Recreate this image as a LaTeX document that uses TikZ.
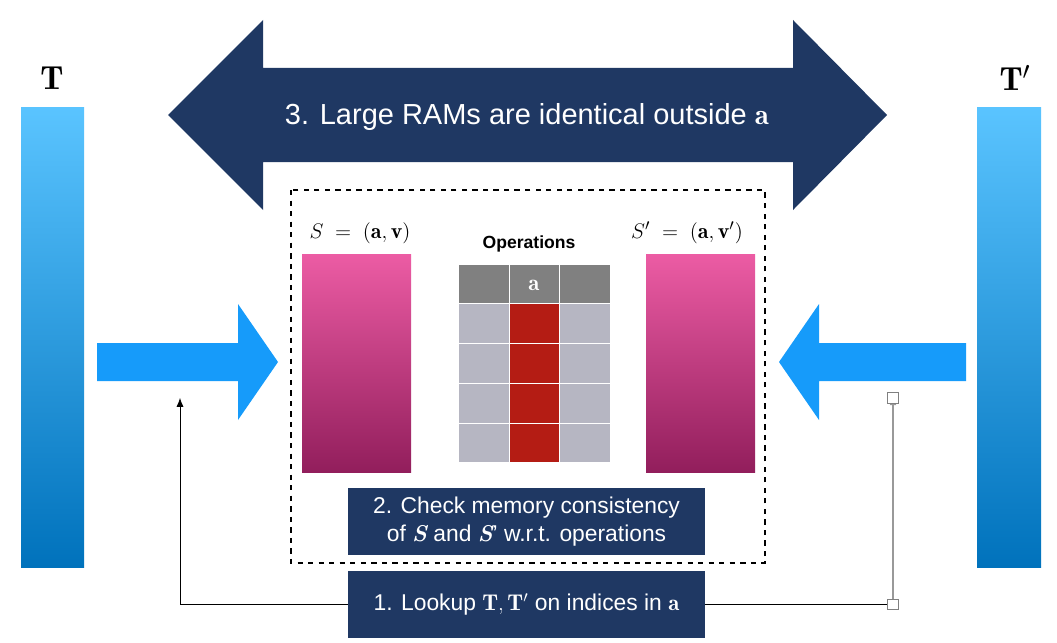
\documentclass[tikz,border=0pt]{standalone}
\usepackage{amsmath,amssymb,bm}
\usepackage{fontspec}
\setsansfont{Liberation Sans}
\usepackage{xcolor}
\usetikzlibrary{arrows.meta,positioning,calc}
\definecolor{navy}{RGB}{31,56,99}
\definecolor{arrowblue}{RGB}{22,155,250}
\definecolor{ttop}{RGB}{90,196,255}
\definecolor{tbot}{RGB}{0,114,188}
\definecolor{pinktop}{RGB}{236,92,164}
\definecolor{pinkbot}{RGB}{146,30,92}
\definecolor{headgray}{RGB}{128,128,128}
\definecolor{cellgray}{RGB}{182,182,194}
\definecolor{opred}{RGB}{180,28,20}
\newcommand{\bS}{{\rmfamily\bfseries\itshape S}}

\begin{document}
\begin{tikzpicture}[x=0.02cm,y=-0.02cm,
  steptext/.style={text=white,font=\sffamily\fontsize{13}{16}\selectfont,align=center},
  stepbox/.style={fill=navy,minimum width=357*0.02cm,minimum height=67*0.02cm,inner sep=0pt},
  handle/.style={draw=gray,fill=white,minimum size=6pt,inner sep=0pt}]
\useasboundingbox (0,0) rectangle (1057,642);
% tables T and T'
\shade[top color=ttop,bottom color=tbot] (21,107) rectangle (84,567);
\shade[top color=ttop,bottom color=tbot] (977,107) rectangle (1041,567);
\node (labT) at (52,78) {\fontsize{19}{21}\selectfont$\mathbf{T}$};
\node (labTp) at (1015,78) {\fontsize{19}{21}\selectfont$\mathbf{T}'$};
% double arrow
\fill[navy] (168,115) -- (263,20) -- (263,68) -- (793,68) -- (793,20) -- (887,115)
  -- (793,210) -- (793,162) -- (263,162) -- (263,210) -- cycle;
\node[text=white,font=\sffamily\fontsize{16.5}{19}\selectfont] (title) at (527,117)
  {3. Large RAMs are identical outside $\mathbf{a}$};
% blue arrows
\fill[arrowblue] (97,343) -- (238,343) -- (238,304) -- (278,362) -- (238,420) -- (238,381) -- (97,381) -- cycle;
\fill[arrowblue] (966,343) -- (819,343) -- (819,304) -- (779,362) -- (819,420) -- (819,381) -- (966,381) -- cycle;
% dashed frame
\draw[dashed,thick] (291,190) rectangle (765,563);
% small RAMs
\shade[top color=pinktop,bottom color=pinkbot] (302,254) rectangle (411,472);
\shade[top color=pinktop,bottom color=pinkbot] (646,254) rectangle (755,472);
\node (labS) at (360,233) {\fontsize{12.5}{15}\selectfont$S\;=\;(\mathbf{a},\mathbf{v})$};
\node (labSp) at (687,233) {\fontsize{12.5}{15}\selectfont$S'\;=\;(\mathbf{a},\mathbf{v}')$};
% operations table
\node[font=\sffamily\bfseries\fontsize{10}{12}\selectfont] (ops) at (529,244) {Operations};
\fill[headgray] (459,265) rectangle (610,303);
\fill[cellgray] (459,303) rectangle (610,462);
\fill[opred] (509,303) rectangle (559,462);
\foreach \y in {303,343,383,423} \draw[white,thin] (459,\y) -- (610,\y);
\foreach \x in {509,559} \draw[white,thin] (\x,265) -- (\x,462);
\node[text=white] (opa) at (534,285) {\fontsize{13}{15}\selectfont$\mathbf{a}$};
% steps
\node[stepbox] (check) at (526.5,521.5) {};
\node[steptext] at (check) {2. Check memory consistency\\of \bS\ and \bS' w.r.t. operations};
\node[stepbox] (lookup) at (526.5,604.5) {};
\node[steptext] at (lookup) {1. Lookup $\mathbf{T},\mathbf{T}'$ on indices in $\mathbf{a}$};
% lookup connectors
\coordinate (lookL) at (180,398);
\coordinate (lookR) at (893,398);
\draw[-{Latex[length=5pt,width=4pt]}] (lookup.west) -| (lookL);
\draw (lookup.east) -- (lookup.east -| lookR) node[handle] (hb) {};
\draw[gray!80,line width=1pt,-{Latex[length=4pt,width=4pt]}] (hb) -- (lookR);
\node[handle] (ht) at (lookR) {};
\end{tikzpicture}
\end{document}
